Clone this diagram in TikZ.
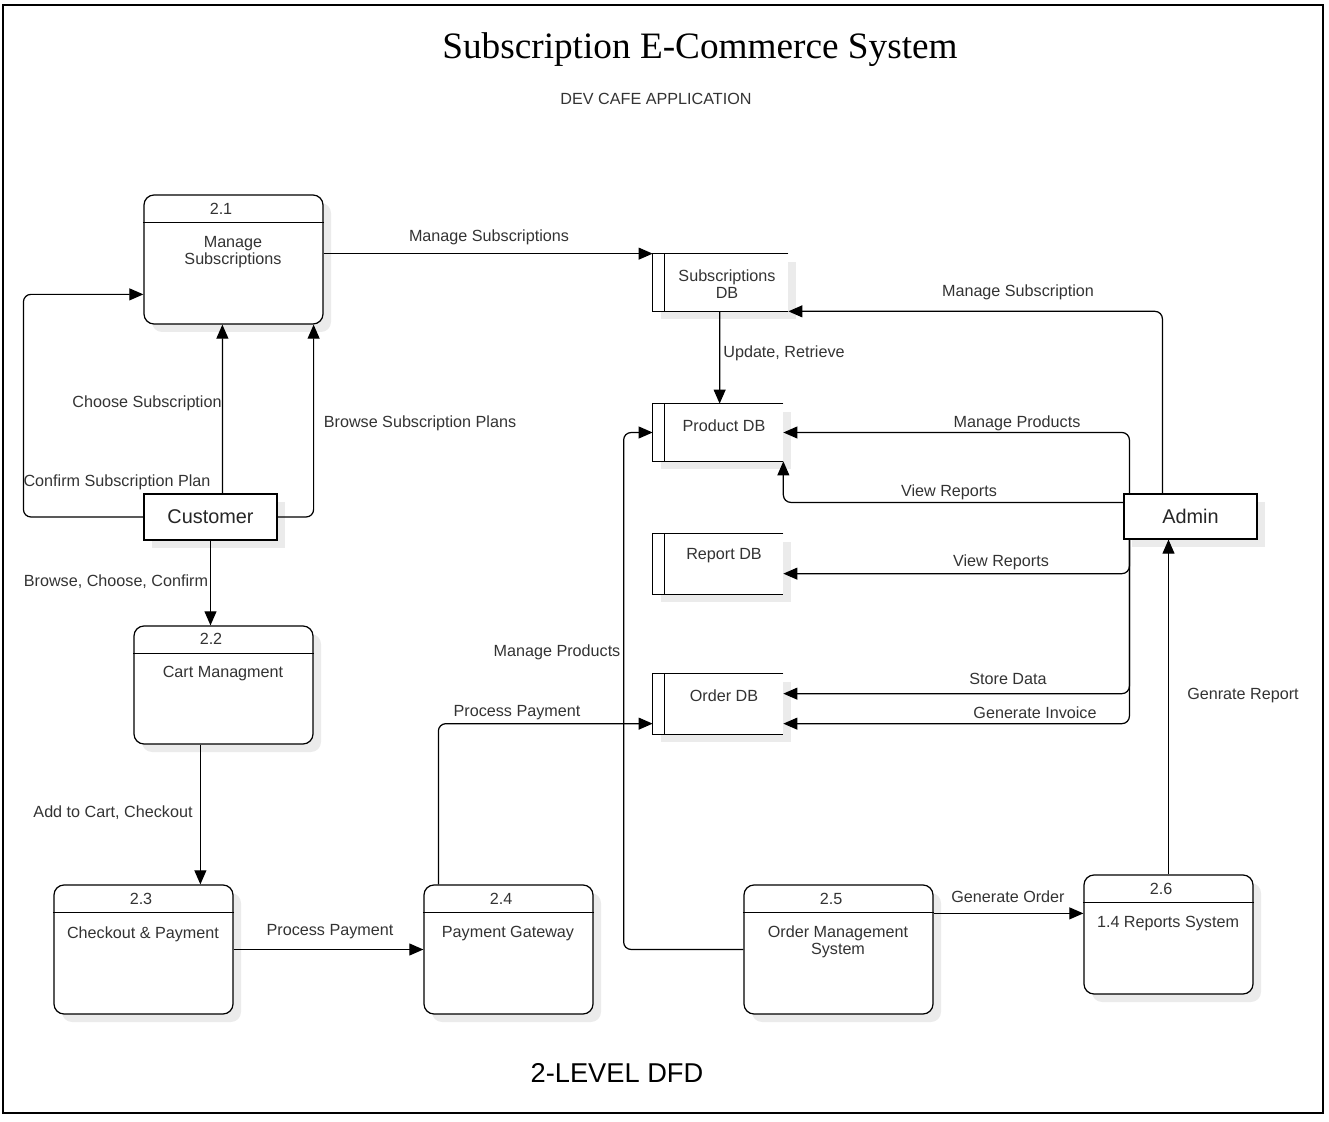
\documentclass[tikz,border=0pt]{standalone}
\usepackage{fontspec}
\setmainfont{Liberation Sans}
\newfontfamily\ttlfont{Liberation Serif}
\usetikzlibrary{calc,shadows,arrows.meta}

\tikzstyle{shS}=[drop shadow={shadow xshift=0.16cm,shadow yshift=-0.16cm,fill=black!8,opacity=1}]
\tikzstyle{pS}=[rectangle,rounded corners=0.2cm,draw,line width=0.7pt,fill=white,minimum width=3.58cm,minimum height=2.58cm,inner sep=0pt,shS]
\tikzstyle{eS}=[rectangle,draw,line width=0.65pt,fill=white,minimum width=2.66cm,minimum height=0.92cm,inner sep=0pt,text=black!85,font=\fontsize{11.3}{13}\selectfont,shS]
\tikzstyle{dS}=[rectangle,fill=white,minimum width=2.6cm,minimum height=1.14cm,inner sep=0pt,shS]
\tikzstyle{tS}=[inner sep=0pt,align=center,yshift=-1.1pt,text=black!80,font=\fontsize{9.2}{9.6}\selectfont]
\tikzstyle{lS}=[inner sep=0pt,yshift=-1.1pt,text=black!80,font=\fontsize{9.2}{11}\selectfont]
\tikzstyle{aS}=[line width=0.7pt,rounded corners=0.15cm,-{Triangle[length=8pt,width=6.8pt]}]

\begin{document}
\begin{tikzpicture}[x=0.2mm,y=-0.2mm]
                \useasboundingbox (0,0) rectangle (1329,1122);
                \draw[line width=0.9pt] (3,5) rectangle (1323,1113);
                % titles
                \draw (700,50) node[inner sep=0pt,font=\ttlfont\fontsize{21.2}{24}\selectfont] (ttl) {Subscription E-Commerce System};
                \draw (656,97) node[lS] (sub) {DEV CAFE APPLICATION};
                \draw (617,1073) node[inner sep=0pt,font=\fontsize{15.5}{18}\selectfont] (lvl) {2-LEVEL DFD};
                % processes
                \draw (233.5,259.5) node[pS] (n21) {};
                \draw (223.5,685) node[pS,minimum height=2.36cm] (n22) {};
                \draw (143.5,949.5) node[pS] (n23) {};
                \draw (508.5,949.5) node[pS,minimum width=3.38cm] (n24) {};
                \draw (838.5,949.5) node[pS,minimum width=3.78cm] (n25) {};
                \draw (1168.5,934.5) node[pS,minimum width=3.38cm,minimum height=2.38cm] (n26) {};
                \foreach \p in {n21,n22,n23,n24,n25,n26}
                    \draw[line width=0.7pt] ($(\p.north west)+(0,28)$) -- ($(\p.north east)+(0,28)$);
                \draw (221,207) node[tS] (k21) {2.1};
                \draw (211,637) node[tS] (k22) {2.2};
                \draw (141,897) node[tS] (k23) {2.3};
                \draw (501,897) node[tS] (k24) {2.4};
                \draw (831,897) node[tS] (k25) {2.5};
                \draw (1161,887) node[tS] (k26) {2.6};
                \draw (233,250) node[tS] (t21) {Manage\\Subscriptions};
                \draw (223,672) node[tS] (t22) {Cart Managment};
                \draw (143,932) node[tS] (t23) {Checkout \& Payment};
                \draw (508,932) node[tS] (t24) {Payment Gateway};
                \draw (838,940) node[tS] (t25) {Order Management\\System};
                \draw (1168,922) node[tS] (t26) {1.4 Reports System};
                % data stores
                \draw (720.5,282.5) node[dS,minimum width=2.7cm] (sdb) {};
                \draw (718,432.5) node[dS] (pdb) {};
                \draw (718,564) node[dS,minimum height=1.2cm] (rdb) {};
                \draw (718,704) node[dS,minimum height=1.2cm] (odb) {};
                \foreach \s in {sdb,pdb,rdb,odb}{
                    \draw[line width=0.7pt] (\s.north east) -- (\s.north west) -- (\s.south west) -- (\s.south east);
                    \draw[line width=0.7pt] ($(\s.north west)+(12,0)$) -- ($(\s.south west)+(12,0)$);
                }
                \draw (727,282) node[tS] (tsdb) {Subscriptions\\DB};
                \draw (724,424) node[tS] (tpdb) {Product DB};
                \draw (724,554) node[tS] (trdb) {Report DB};
                \draw (724,694) node[tS] (todb) {Order DB};
                % external entities
                \draw (210.5,517) node[eS] (cus) {Customer};
                \draw (1190.5,516.5) node[eS,minimum height=0.9cm] (adm) {Admin};
                % flows
                \draw[aS] (n21.east |- sdb.north west) -- (sdb.north west);
                \draw[aS] ($(adm.north west)+(39,0)$) |- (sdb.south east);
                \draw[aS] ($(sdb.south west)+(67,0)$) -- ($(pdb.north west)+(67,0)$);
                \draw[aS] ($(adm.north west)+(6,0)$) |- (pdb.east);
                \draw[aS] ($(adm.north west)+(0,9)$) -| (pdb.south east);
                \draw[aS] ($(adm.south west)+(6,0)$) |- ($(rdb.north east)+(0,40)$);
                \draw[aS] ($(adm.south west)+(6,0)$) |- ($(odb.north east)+(0,20)$);
                \draw[aS] ($(adm.south west)+(6,0)$) |- ($(odb.north east)+(0,50)$);
                \draw[aS] (n26.north) -- (n26.north |- adm.south);
                \draw[aS] ($(n25.north east)+(0,29)$) -- ($(n26.north west)+(0,39)$);
                \draw[aS] (n25.west) -| ($(pdb.west)+(-29,0)$) -- (pdb.west);
                \draw[aS] ($(n24.north west)+(15,0)$) |- ($(odb.north west)+(0,50)$);
                \draw[aS] (n23.east) -- (n24.west);
                \draw[aS] ($(n22.south west)+(67,0)$) -- ($(n23.north west)+(147,0)$);
                \draw[aS] (cus.south) -- (cus.south |- n22.north);
                \draw[aS] ($(cus.north west)+(79,0)$) -- ($(n21.south west)+(79,0)$);
                \draw[aS] (cus.east) -| ($(n21.south east)+(-10,0)$);
                \draw[aS] (cus.west) -- ++(-120,0) |- ($(n21.north west)+(0,100)$);
                % flow labels
                \draw (489,235) node[lS] (l1) {Manage Subscriptions};
                \draw (1018,290) node[lS] (l2) {Manage Subscription};
                \draw (723,351) node[lS,anchor=west] (l3) {Update, Retrieve};
                \draw (1017,421) node[lS] (l4) {Manage Products};
                \draw (949,490) node[lS] (l5) {View Reports};
                \draw (1001,560) node[lS] (l6) {View Reports};
                \draw (1008,677) node[lS] (l7) {Store Data};
                \draw (1035,711) node[lS] (l8) {Generate Invoice};
                \draw (1243,694) node[lS] (l9) {Genrate Report};
                \draw (1008,895) node[lS] (l10) {Generate Order};
                \draw (557,650) node[lS] (l11) {Manage Products};
                \draw (517,711) node[lS] (l12) {Process Payment};
                \draw (330,930) node[lS] (l13) {Process Payment};
                \draw (113,811) node[lS] (l14) {Add to Cart, Checkout};
                \draw (116,580) node[lS] (l15) {Browse, Choose, Confirm};
                \draw (147,401) node[lS] (l16) {Choose Subscription};
                \draw (420,421) node[lS] (l17) {Browse Subscription Plans};
                \draw (117,480) node[lS] (l18) {Confirm Subscription Plan};
        \end{tikzpicture}
\end{document}
